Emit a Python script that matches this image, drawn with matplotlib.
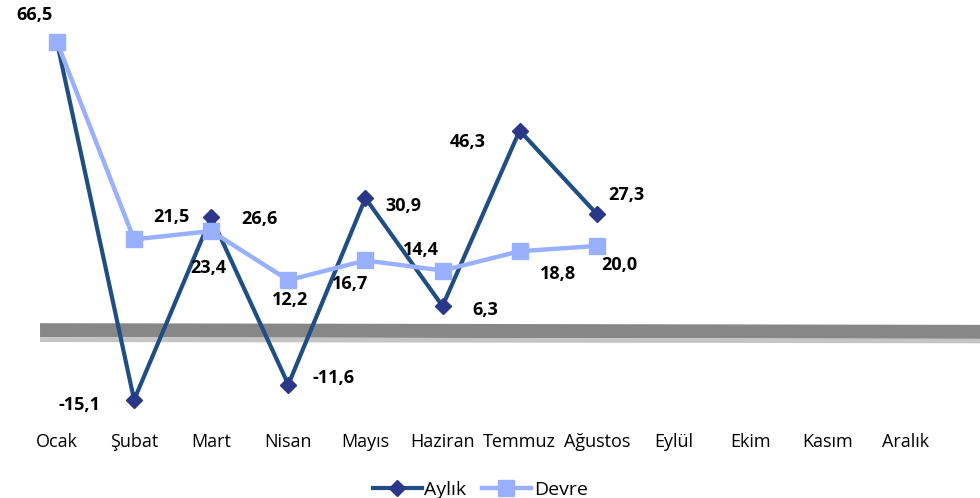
import matplotlib.pyplot as plt
import numpy as np

plt.rcParams["font.family"] = ["Open Sans", "DejaVu Sans"]

months = ["Ocak", "Şubat", "Mart", "Nisan", "Mayıs", "Haziran",
          "Temmuz", "Ağustos", "Eylül", "Ekim", "Kasım", "Aralık"]
aylik = [66.5, -15.1, 26.6, -11.6, 30.9, 6.3, 46.3, 27.3]
devre = [66.5, 21.5, 23.4, 12.2, 16.7, 14.4, 18.8, 20.0]

# label offsets in pixels (dx, dy); None = no label
aylik_off = [(-22, 27), (-55, -5), (48, -2), (45, 7), (38, -8),
             (43, -4), (-52, -11), (30, 19)]
devre_off = [None, (37, 22), (-3, -37), (2, -20), (-15, -24),
             (-22, 21), (38, -23), (23, -19)]

AYLIK_LINE = "#1f4e82"
AYLIK_MARK = "#2b3889"
DEVRE = "#99b0ff"


def fmt(v):
    return f"{v:.1f}".replace(".", ",")


fig = plt.figure(figsize=(9.8, 4.98), dpi=100)
ax = fig.add_axes([0, 0.1466, 1, 0.8534])

ax.set_xlim(-0.739, 11.97)
ax.set_ylim(-20.81, 76.07)

# 3d-ish floor band at zero
xs = np.array([-0.22, 12.5])
ax.fill_between(xs, [-0.8, -1.2], [2.4, 2.0], color="#878787", lw=0, zorder=1)
ax.fill_between(xs, [-1.9, -2.2], [-0.8, -1.2], color="#c4c4c4", lw=0, zorder=1)

x = np.arange(len(aylik))
ax.plot(x, aylik, "-", color=AYLIK_LINE, lw=3.0, zorder=3,
        marker="D", ms=8, mfc=AYLIK_MARK, mec=AYLIK_MARK, label="Aylık")
ax.plot(x, devre, "-", color=DEVRE, lw=3.2, zorder=4,
        marker="s", ms=11, mfc=DEVRE, mec=DEVRE, label="Devre")

for i, v in enumerate(aylik):
    if aylik_off[i]:
        ax.annotate(fmt(v), (i, v), textcoords="offset pixels",
                    xytext=aylik_off[i], ha="center", va="center",
                    fontsize=13, fontweight="bold", zorder=5)
for i, v in enumerate(devre):
    if devre_off[i]:
        ax.annotate(fmt(v), (i, v), textcoords="offset pixels",
                    xytext=devre_off[i], ha="center", va="center",
                    fontsize=13, fontweight="bold", zorder=5)

ax.set_xticks(np.arange(len(months)))
ax.set_xticklabels(months, fontsize=13)
ax.tick_params(axis="x", length=0, pad=6)
ax.set_yticks([])
for s in ax.spines.values():
    s.set_visible(False)

ax.legend(loc="lower center", bbox_to_anchor=(0.49, -0.215), ncol=2,
          frameon=False, fontsize=14, handlelength=2.5, handletextpad=0.15,
          columnspacing=0.8)

fig.savefig("out.png", dpi=100)
